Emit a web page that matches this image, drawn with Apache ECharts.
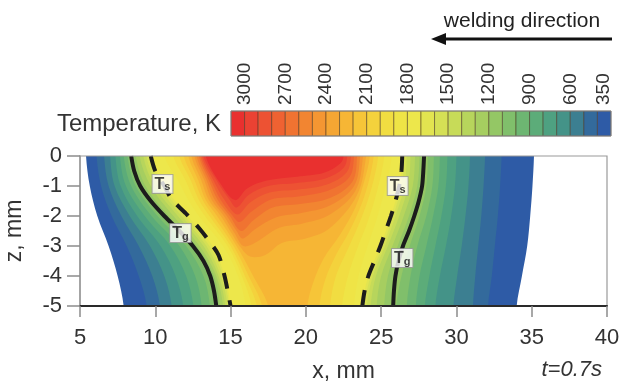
<!DOCTYPE html>
<html>
<head>
<meta charset="utf-8">
<script src="https://cdn.jsdelivr.net/npm/echarts@6/dist/echarts.min.js"></script>
<style>
html,body{margin:0;padding:0;background:#fff}
#chart{width:622px;height:383px}
</style>
</head>
<body>
<div id="chart"></div>
<script>
const FONT = '"Liberation Sans", Arial, sans-serif';

// colour bar: cell bounds (K) and fill colours, hottest first
const cellBounds = [3100, 3000, 2900, 2800, 2700, 2600, 2500, 2400, 2300, 2200, 2100, 2000, 1900, 1800,
  1700, 1600, 1500, 1400, 1300, 1200, 1100, 1000, 900, 800, 700, 600, 500, 400, 300];
const cellColors = ['#e9302f', '#eb4233', '#ed5233', '#ef6232', '#f07331', '#f28531', '#f49632', '#f5a633',
  '#f6b635', '#f6c538', '#f4d23c', '#f1dd41', '#efe446', '#ede74b', '#e2e450', '#d5e055', '#c7db58',
  '#b7d55c', '#a6ce60', '#94c765', '#80bf6b', '#6db672', '#5cac79', '#4ea181', '#449388', '#3c7f91',
  '#336a9c', '#2e5ba6'];
const barLabels = [3000, 2700, 2400, 2100, 1800, 1500, 1200, 900, 600, 350];

// isotherms that run from top (z=0) to bottom (z=-5): x (mm) at each depth row
const depthRows = [0, -1, -2, -3, -4, -5];
const coolLevels = [350, 400, 500, 600, 700, 800, 900, 1000, 1100, 1200, 1300, 1400, 1500, 1600, 1700];
const coolLeftX = [
  [5.4, 5.65, 6.15, 6.9, 7.5, 7.9],
  [6.1, 6.4, 7.1, 8.1, 8.9, 9.43],
  [6.6, 6.9, 7.75, 8.9, 9.8, 10.31],
  [7.0, 7.3, 8.3, 9.65, 10.6, 11.09],
  [7.35, 7.7, 8.8, 10.35, 11.35, 11.86],
  [7.65, 8.05, 9.3, 11.0, 12.05, 12.53],
  [7.9, 8.4, 9.75, 11.6, 12.65, 13.08],
  [8.15, 8.7, 10.15, 12.05, 13.2, 13.63],
  [8.3, 8.9, 10.45, 12.35, 13.5, 13.9],
  [8.7, 9.35, 10.9, 12.75, 13.9, 14.3],
  [8.95, 9.7, 11.2, 12.95, 14.05, 14.5],
  [9.2, 9.95, 11.5, 13.2, 14.2, 14.65],
  [9.4, 10.2, 11.75, 13.4, 14.35, 14.8],
  [9.55, 10.4, 11.95, 13.6, 14.5, 14.9],
  [9.7, 10.6, 12.15, 13.8, 14.6, 15.0]
];
const coolRightX = [
  [35.15, 35.05, 34.9, 34.7, 34.35, 34.0],
  [33.0, 32.9, 32.75, 32.55, 32.35, 32.1],
  [31.9, 31.8, 31.65, 31.45, 31.25, 31.1],
  [30.9, 30.8, 30.6, 30.35, 30.05, 29.8],
  [30.0, 29.9, 29.65, 29.3, 28.9, 28.6],
  [29.4, 29.3, 29.0, 28.6, 28.2, 27.9],
  [28.9, 28.8, 28.45, 28.0, 27.55, 27.3],
  [28.5, 28.4, 28.0, 27.4, 26.95, 26.7],
  [28.1, 28.0, 27.55, 26.9, 26.35, 26.0],
  [27.55, 27.4, 26.85, 26.1, 25.45, 25.2],
  [27.25, 27.1, 26.5, 25.75, 25.0, 24.7],
  [26.95, 26.8, 26.2, 25.45, 24.65, 24.3],
  [26.7, 26.55, 25.95, 25.25, 24.45, 24.05],
  [26.55, 26.35, 25.8, 25.1, 24.3, 23.9],
  [26.4, 26.2, 25.65, 24.95, 24.15, 23.75]
];

// hot isotherms traced as [x, z] from the top-left round to the top-right
const hotLevels = [1800, 1900, 2000, 2100, 2200, 2300, 2400, 2500, 2600, 2700, 2800, 2900, 3000];
const hotContours = [
  [[10.6, 0], [11.5, -0.8], [12.2, -1.47], [12.9, -2], [14.5, -3], [15.5, -4], [16.0, -5],
   [23.2, -5], [23.5, -4], [24.1, -3], [24.7, -2.1], [25.15, -1.3], [25.5, -0.6], [25.7, 0]],
  [[11.2, 0], [12.0, -0.8], [12.6, -1.47], [13.3, -2], [14.8, -3], [15.75, -4], [16.4, -5],
   [22.4, -5], [22.8, -4], [23.4, -3.1], [24.1, -2.2], [24.6, -1.4], [25.0, -0.6], [25.2, 0]],
  [[11.6, 0], [12.35, -0.8], [12.9, -1.47], [13.6, -2], [15.0, -3], [15.95, -4], [16.75, -5],
   [21.6, -5], [22.0, -4], [22.7, -3.2], [23.5, -2.3], [24.1, -1.5], [24.55, -0.7], [24.8, 0]],
  [[11.9, 0], [12.6, -0.8], [13.15, -1.47], [13.85, -2], [15.2, -3], [16.2, -4], [17.1, -5],
   [20.9, -5], [21.3, -4.1], [22.0, -3.3], [22.9, -2.5], [23.7, -1.6], [24.2, -0.8], [24.5, 0]],
  [[12.2, 0], [12.85, -0.8], [13.35, -1.47], [14.1, -2], [15.4, -3], [16.5, -4], [17.5, -5],
   [20.1, -5], [20.5, -4.2], [21.2, -3.4], [22.3, -2.6], [23.3, -1.7], [23.9, -0.8], [24.25, 0]],
  [[12.4, 0], [13.05, -0.8], [13.55, -1.47], [14.35, -2], [15.1, -2.6], [15.6, -3.0], [16.3, -3.35],
   [17.3, -3.3], [18.4, -2.9], [20.0, -2.75], [21.6, -2.4], [23.4, -1.3], [24.0, 0]],
  [[12.6, 0], [13.25, -0.8], [13.75, -1.47], [14.55, -2], [15.3, -2.6], [15.85, -3.0], [16.6, -2.9],
   [18.2, -2.4], [19.8, -2.25], [21.6, -1.95], [23.3, -1.15], [23.8, 0]],
  [[12.75, 0], [13.4, -0.8], [13.95, -1.47], [14.75, -2], [15.4, -2.5], [15.8, -2.75], [16.6, -2.45],
   [18.0, -2.05], [19.7, -1.9], [21.6, -1.65], [23.2, -1.0], [23.6, 0]],
  [[12.9, 0], [13.55, -0.8], [14.15, -1.47], [14.95, -2], [15.7, -2.5], [16.5, -2.15], [17.8, -1.72],
   [19.6, -1.6], [21.6, -1.4], [23.1, -0.85], [23.4, 0]],
  [[13.0, 0], [13.7, -0.8], [14.35, -1.47], [15.15, -2], [15.6, -2.2], [16.4, -1.85], [17.7, -1.45],
   [19.5, -1.35], [21.5, -1.15], [22.9, -0.7], [23.2, 0]],
  [[13.1, 0], [13.85, -0.8], [14.6, -1.47], [15.45, -1.95], [16.3, -1.55], [17.6, -1.22],
   [19.5, -1.12], [21.4, -0.95], [22.7, -0.55], [23.0, 0]],
  [[13.2, 0], [14.05, -0.8], [14.95, -1.47], [15.4, -1.72], [16.2, -1.3], [17.5, -1.0],
   [19.4, -0.9], [21.3, -0.75], [22.5, -0.4], [22.75, 0]],
  [[13.35, 0], [14.3, -0.9], [15.3, -1.47], [16.1, -1.08], [17.4, -0.82], [19.4, -0.69],
   [21.2, -0.56], [22.3, -0.24], [22.5, 0]]
];

// Ts (dashed) and Tg (solid) lines
const tsLeft = [[9.7, 0], [10.0, -0.5], [10.6, -1.0], [11.1, -1.45], [12.0, -1.9], [12.9, -2.4], [13.6, -2.85],
  [14.2, -3.3], [14.6, -4.0], [14.85, -4.6], [15.0, -5]];
const tsRight = [[26.4, 0], [26.35, -0.5], [26.2, -1.0], [25.95, -1.5], [25.65, -2.0], [25.3, -2.5],
  [24.95, -3.0], [24.55, -3.5], [24.15, -4.0], [23.9, -4.5], [23.75, -5]];
const tgLeft = [[8.4, 0], [8.6, -0.5], [9.0, -1.0], [9.7, -1.5], [10.6, -2.0], [11.6, -2.5], [12.5, -3.0],
  [13.2, -3.5], [13.65, -4.0], [13.9, -4.5], [14.05, -5]];
const tgRight = [[27.85, 0], [27.8, -0.5], [27.72, -1.0], [27.5, -1.5], [27.2, -2.0], [26.85, -2.5],
  [26.45, -3.0], [26.15, -3.5], [25.95, -4.0], [25.85, -4.5], [25.8, -5]];
const tsLabels = [[10.48, -0.93], [26.1, -1.0]];
const tgLabels = [[11.67, -2.57], [26.4, -3.4]];

// build band list, coolest first
const bands = [];
coolLevels.forEach((lv, i) => {
  const pts = [];
  depthRows.forEach((z, j) => pts.push([coolLeftX[i][j], z]));
  for (let j = depthRows.length - 1; j >= 0; j--) pts.push([coolRightX[i][j], depthRows[j]]);
  bands.push({level: lv, pts: pts});
});
hotLevels.forEach((lv, i) => bands.push({level: lv, pts: hotContours[i]}));

function colorFor(lv) {
  for (let i = 0; i < cellColors.length; i++) {
    if (lv >= cellBounds[i + 1] && lv < cellBounds[i]) return cellColors[i];
  }
  return cellColors[0];
}

// push the open ends past the plot edges so the clip makes them straight
function closeOutside(pts) {
  const out = [];
  const first = pts[0], last = pts[pts.length - 1];
  if (first[1] === 0) out.push([first[0], 0.8]);
  for (let i = 0; i < pts.length; i++) {
    out.push(pts[i]);
    const nx = pts[i + 1];
    if (nx && pts[i][1] === -5 && nx[1] === -5) {
      out.push([pts[i][0], -5.8]);
      out.push([nx[0], -5.8]);
    }
  }
  if (last[1] === 0) out.push([last[0], 0.8]);
  return out;
}

const chart = echarts.init(document.getElementById('chart'), null, {renderer: 'canvas'});

const labelRich = {
  a: {fontSize: 16, fontWeight: 'bold', color: '#111', lineHeight: 17, fontFamily: FONT},
  b: {fontSize: 11, fontWeight: 'bold', color: '#111', lineHeight: 11, verticalAlign: 'bottom', fontFamily: FONT}
};
function boxLabel(sub) {
  return {
    show: true,
    position: 'inside',
    formatter: '{a|T}{b|' + sub + '}',
    rich: labelRich,
    backgroundColor: '#fff',
    borderColor: '#999',
    borderWidth: 1,
    padding: [1, 2, 0, 2]
  };
}

const option = {
  animation: false,
  backgroundColor: '#fff',
  textStyle: {fontFamily: FONT},
  grid: [
    {left: 80, top: 156, width: 527, height: 150, containLabel: false, outerBoundsMode: 'none',
      show: true, borderColor: '#9a9a9a', borderWidth: 1.2, backgroundColor: 'transparent', z: 10},
    {left: 231, top: 111, width: 380, height: 25, containLabel: false, outerBoundsMode: 'none',
      show: true, borderColor: '#8a8a8a', borderWidth: 1, backgroundColor: 'transparent', z: 10}
  ],
  xAxis: [
    {
      gridIndex: 0, type: 'value', min: 5, max: 40, interval: 5, z: 11,
      axisLine: {onZero: false, lineStyle: {color: '#2a2a2a', width: 2}},
      axisTick: {length: 11, lineStyle: {color: '#8c8c8c', width: 1.5}},
      axisLabel: {fontSize: 22, color: '#333', margin: 21, fontFamily: FONT},
      splitLine: {show: false},
      name: 'x, mm', nameLocation: 'middle', nameGap: 54,
      nameTextStyle: {fontSize: 23, color: '#333', fontFamily: FONT}
    },
    {
      gridIndex: 1, type: 'value', min: 300, max: 3100, inverse: true, position: 'top', z: 11,
      axisLine: {show: false}, axisTick: {show: false}, splitLine: {show: false},
      axisLabel: {customValues: barLabels, rotate: 90, fontSize: 19, margin: 6, color: '#333', fontFamily: FONT,
        formatter: v => String(v)}
    }
  ],
  yAxis: [
    {
      gridIndex: 0, type: 'value', min: -5, max: 0, interval: 1, z: 11,
      axisLine: {show: true, onZero: false, lineStyle: {color: '#9a9a9a', width: 1.5}},
      axisTick: {show: true, length: 13, lineStyle: {color: '#8c8c8c', width: 1.5}},
      axisLabel: {fontSize: 22, color: '#333', margin: 18, fontFamily: FONT},
      splitLine: {show: false},
      name: 'z, mm', nameLocation: 'middle', nameGap: 54,
      nameTextStyle: {fontSize: 23, color: '#333', fontFamily: FONT}
    },
    {gridIndex: 1, type: 'value', min: 0, max: 1, show: false}
  ],
  series: [
    {
      type: 'custom',
      xAxisIndex: 0, yAxisIndex: 0,
      clip: true,
      z: 1,
      data: bands.map(b => [b.level]),
      renderItem: function (params, api) {
        const b = bands[params.dataIndex];
        const pts = closeOutside(b.pts).map(p => api.coord(p));
        return {
          type: 'polygon',
          shape: {points: pts, smooth: 0.35},
          style: {fill: colorFor(b.level), stroke: null}
        };
      }
    },
    {
      type: 'custom',
      xAxisIndex: 1, yAxisIndex: 1,
      z: 2,
      data: cellColors.map((c, i) => [cellBounds[i], cellBounds[i + 1]]),
      renderItem: function (params, api) {
        const p0 = api.coord([api.value(0), 1]);
        const p1 = api.coord([api.value(1), 0]);
        return {
          type: 'rect',
          shape: {x: Math.min(p0[0], p1[0]), y: p0[1], width: Math.abs(p1[0] - p0[0]), height: p1[1] - p0[1]},
          style: {fill: cellColors[params.dataIndex], stroke: 'rgba(70,50,30,0.5)', lineWidth: 1}
        };
      }
    },
    {type: 'line', data: tgLeft, smooth: 0.3, showSymbol: false, z: 3,
      lineStyle: {color: '#1c1c1c', width: 4}},
    {type: 'line', data: tgRight, smooth: 0.3, showSymbol: false, z: 3,
      lineStyle: {color: '#1c1c1c', width: 4}},
    {type: 'line', data: tsLeft, smooth: 0.3, showSymbol: false, z: 3,
      lineStyle: {color: '#1c1c1c', width: 4, type: [16, 12]}},
    {type: 'line', data: tsRight, smooth: 0.3, showSymbol: false, z: 3,
      lineStyle: {color: '#1c1c1c', width: 4, type: [16, 12]}},
    {type: 'scatter', data: tsLabels, symbolSize: 0, itemStyle: {color: 'rgba(0,0,0,0)'}, z: 4,
      labelLayout: {hideOverlap: false}, label: boxLabel('s')},
    {type: 'scatter', data: tgLabels, symbolSize: 0, itemStyle: {color: 'rgba(0,0,0,0)'}, z: 4,
      labelLayout: {hideOverlap: false}, label: boxLabel('g')}
  ],
  graphic: [
    {type: 'text', x: 221, y: 124, z: 20,
      style: {text: 'Temperature, K', font: '24px ' + FONT, fill: '#333', align: 'right', verticalAlign: 'middle'}},
    {type: 'text', x: 522, y: 21, z: 20,
      style: {text: 'welding direction', font: '21px ' + FONT, fill: '#222', align: 'center', verticalAlign: 'middle'}},
    {type: 'line', z: 20, shape: {x1: 612, y1: 39, x2: 442, y2: 39}, style: {stroke: '#111', lineWidth: 3}},
    {type: 'polygon', z: 20, shape: {points: [[431, 39], [446, 33], [446, 45]]}, style: {fill: '#111'}},
    {type: 'text', x: 602, y: 370, z: 20,
      style: {text: 't=0.7s', font: 'italic 22px ' + FONT, fill: '#333', align: 'right', verticalAlign: 'middle'}}
  ]
};

chart.setOption(option);
</script>
</body>
</html>
